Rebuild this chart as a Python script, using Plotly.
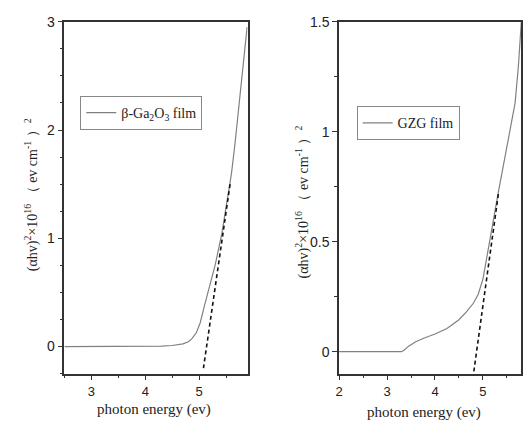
import plotly.graph_objects as go

# ---- data ----
left_x = [2.5, 3.0, 3.5, 4.0, 4.3, 4.5, 4.6, 4.7, 4.8, 4.87, 4.95, 5.02, 5.1, 5.2, 5.3, 5.42, 5.5, 5.6, 5.66, 5.75, 5.82, 5.89]
left_y = [0, 0, 0, 0.002, 0.005, 0.01, 0.015, 0.025, 0.045, 0.075, 0.13, 0.22, 0.38, 0.57, 0.76, 1.04, 1.3, 1.6, 1.85, 2.3, 2.62, 2.95]
left_fit_x = [5.08, 5.58]
left_fit_y = [-0.2, 1.52]

right_x = [2.0, 3.0, 3.3, 3.36, 3.45, 3.6, 3.75, 4.0, 4.25, 4.5, 4.65, 4.8, 4.9, 5.0, 5.05, 5.15, 5.22, 5.3, 5.46, 5.55, 5.67, 5.74, 5.8]
right_y = [0, 0, 0, 0.008, 0.025, 0.045, 0.06, 0.08, 0.105, 0.145, 0.18, 0.22, 0.26, 0.33, 0.39, 0.5, 0.6, 0.7, 0.89, 0.98, 1.13, 1.3, 1.5]
right_fit_x = [4.81, 5.33]
right_fit_y = [-0.09, 0.73]

left_name = "β-Ga<sub>2</sub>O<sub>3</sub> film"
right_name = "GZG film"
x_title = "photon energy (ev)"
y_title = "(αhv)<sup>2</sup>×10<sup>16</sup> （ ev cm<sup>-1</sup> ）<sup>2</sup>"

W, H = 523, 423
serif = "Liberation Serif, Times New Roman, serif"
sans = "Liberation Sans, Arial, sans-serif"

fig = go.Figure()
fig.add_trace(go.Scatter(x=left_x, y=left_y, mode="lines", name=left_name,
                         line=dict(color="#808080", width=1.2), xaxis="x", yaxis="y", legend="legend"))
fig.add_trace(go.Scatter(x=left_fit_x, y=left_fit_y, mode="lines", showlegend=False,
                         line=dict(color="#111111", width=1.6, dash="4px,3px"), xaxis="x", yaxis="y"))
fig.add_trace(go.Scatter(x=right_x, y=right_y, mode="lines", name=right_name,
                         line=dict(color="#808080", width=1.2), xaxis="x2", yaxis="y2", legend="legend2"))
fig.add_trace(go.Scatter(x=right_fit_x, y=right_fit_y, mode="lines", showlegend=False,
                         line=dict(color="#111111", width=1.6, dash="4px,3px"), xaxis="x2", yaxis="y2"))

ydom = [1 - 372.7 / H, 1 - 14 / H]

def xax(domain, rng, anchor):
    return dict(domain=domain, range=rng, anchor=anchor, showgrid=False, zeroline=False,
                showline=True, linecolor="#333", linewidth=1.5, mirror=True,
                ticks="outside", ticklen=5, tickwidth=1.2, tickcolor="#333", dtick=1,
                minor=dict(dtick=0.5, ticks="outside", ticklen=3, tickwidth=1.2, tickcolor="#333"),
                tickfont=dict(family=sans, size=13, color="#222"))

def yax(rng, anchor, dtick, minor):
    return dict(domain=ydom, range=rng, anchor=anchor, showgrid=False, zeroline=False,
                showline=True, linecolor="#333", linewidth=1.5, mirror=True,
                ticks="outside", ticklen=5, tickwidth=1.2, tickcolor="#333", dtick=dtick, tick0=0,
                minor=dict(dtick=minor, ticks="outside", ticklen=3, tickwidth=1.2, tickcolor="#333"),
                tickfont=dict(family=sans, size=14, color="#222"))

fig.update_layout(
    width=W, height=H, margin=dict(l=0, r=0, t=0, b=0),
    paper_bgcolor="white", plot_bgcolor="white",
    xaxis=xax([61 / W, 246 / W], [2.5, 5.9], "y"),
    yaxis=yax([-0.25, 3], "x", 1, 0.25),
    xaxis2=xax([338.3 / W, 522.3 / W], [2.0, 5.8], "y2"),
    yaxis2=yax([-0.1, 1.5], "x2", 0.5, 0.25),
    legend=dict(x=77 / W, y=1 - 107 / H, xanchor="left", yanchor="middle", bordercolor="#888",
                borderwidth=1, bgcolor="white", font=dict(family=serif, size=14, color="#222"),
                tracegroupgap=0, itemwidth=30),
    legend2=dict(x=356 / W, y=1 - 117.5 / H, xanchor="left", yanchor="middle", bordercolor="#888",
                 borderwidth=1, bgcolor="white", font=dict(family=serif, size=14, color="#222"),
                 tracegroupgap=0, itemwidth=30),
    showlegend=True,
)

annos = [
    dict(text=x_title, x=151.5 / W, y=1 - 409 / H, font_size=15),
    dict(text=x_title, x=423.7 / W, y=1 - 412 / H, font_size=15),
    dict(text=y_title, x=28 / W, y=1 - 190 / H, textangle=-90, font_size=14),
    dict(text=y_title, x=301 / W, y=1 - 198 / H, textangle=-90, font_size=14),
]
for a in annos:
    fs = a.pop("font_size")
    fig.add_annotation(xref="paper", yref="paper", showarrow=False, xanchor="center", yanchor="middle",
                       font=dict(family=serif, size=fs, color="#222"), **a)

fig.write_html("out.html")
